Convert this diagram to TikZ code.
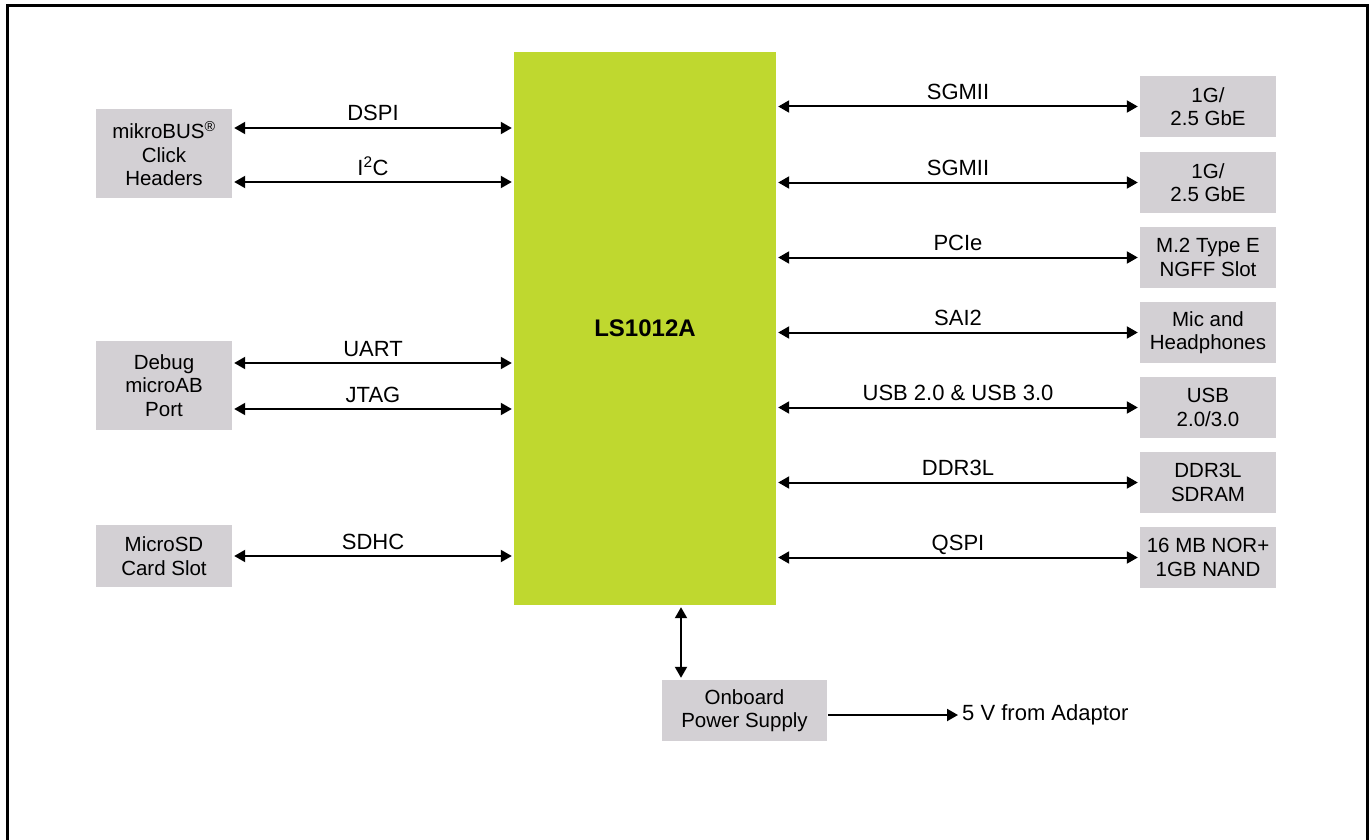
\documentclass[tikz,border=0pt]{standalone}
\usepackage{fontspec}
\setmainfont{Liberation Sans}
\usetikzlibrary{arrows.meta}
\definecolor{boxgray}{RGB}{211,208,212}
\definecolor{chiplime}{RGB}{191,216,47}
\tikzstyle{block}=[fill=boxgray, minimum width=136pt, minimum height=61pt, inner sep=0pt, align=center, font=\fontsize{20.5}{23.5}\selectfont]
\tikzstyle{chipbox}=[fill=chiplime, minimum width=262pt, minimum height=553pt, font=\fontsize{24}{28}\selectfont\bfseries]
\tikzstyle{bus}=[{Triangle[length=11pt,width=12pt]}-{Triangle[length=11pt,width=12pt]}, line width=2pt, shorten <=2pt, shorten >=2pt]
\tikzstyle{feed}=[-{Triangle[length=11pt,width=12pt]}, line width=2pt, shorten <=1pt, shorten >=4pt]
\tikzstyle{lbl}=[midway, anchor=base, yshift=7pt, font=\fontsize{22}{25}\selectfont]

\begin{document}
\begin{tikzpicture}[x=1pt, y=-1pt]
\useasboundingbox (0,0) rectangle (1370,840);
% Frame
    \draw[line width=3pt] (7,840) -- (7,6) -- (1367,6) -- (1367,840);
% Processor
    \node[chipbox] (chip) at (645,328.5) {LS1012A};
% Left blocks
    \node[block, minimum height=89pt] (mikro) at (164,153.5) {mikroBUS\textsuperscript{\textregistered}\\Click\\Headers};
    \node[block, minimum height=89pt] (debug) at (164,385.5) {Debug\\microAB\\Port};
    \node[block, minimum height=62pt] (sd) at (164,556) {MicroSD\\Card Slot};
% Right blocks
    \node[block] (gbe1) at (1208,106.5) {1G/\\2.5 GbE};
    \node[block] (gbe2) at (1208,182.5) {1G/\\2.5 GbE};
    \node[block] (mtwo) at (1208,257.5) {M.2 Type E\\NGFF Slot};
    \node[block] (audio) at (1208,332.5) {Mic and\\Headphones};
    \node[block] (usb) at (1208,407.5) {USB\\2.0/3.0};
    \node[block] (ddr) at (1208,482.5) {DDR3L\\SDRAM};
    \node[block] (flash) at (1208,557.5) {16 MB NOR+\\1GB NAND};
% Power
    \node[block, minimum width=165pt] (psu) at (744.5,710.5) {Onboard\\Power Supply};
    \node[anchor=west, inner sep=0pt, font=\fontsize{22}{25}\selectfont] (adaptor) at (962,715) {5 V from Adaptor};
    \coordinate (pwr) at (681,0);
% Left buses
    \coordinate (dspi) at (0,128);
    \coordinate (iic) at (0,182);
    \coordinate (uart) at (0,363);
    \coordinate (jtag) at (0,409);
    \draw[bus] (mikro.east |- dspi) -- (chip.west |- dspi) node[lbl] {DSPI};
    \draw[bus] (mikro.east |- iic) -- (chip.west |- iic) node[lbl] {I\textsuperscript{2}C};
    \draw[bus] (debug.east |- uart) -- (chip.west |- uart) node[lbl] {UART};
    \draw[bus] (debug.east |- jtag) -- (chip.west |- jtag) node[lbl] {JTAG};
    \draw[bus] (sd.east) -- (chip.west |- sd.east) node[lbl] {SDHC};
% Right buses
    \draw[bus] (chip.east |- gbe1.west) -- (gbe1.west) node[lbl] {SGMII};
    \draw[bus] (chip.east |- gbe2.west) -- (gbe2.west) node[lbl] {SGMII};
    \draw[bus] (chip.east |- mtwo.west) -- (mtwo.west) node[lbl] {PCIe};
    \draw[bus] (chip.east |- audio.west) -- (audio.west) node[lbl] {SAI2};
    \draw[bus] (chip.east |- usb.west) -- (usb.west) node[lbl] {USB 2.0 \& USB 3.0};
    \draw[bus] (chip.east |- ddr.west) -- (ddr.west) node[lbl] {DDR3L};
    \draw[bus] (chip.east |- flash.west) -- (flash.west) node[lbl] {QSPI};
% Supply paths
    \draw[bus] (chip.south -| pwr) -- (psu.north -| pwr);
    \draw[feed] (psu.east |- adaptor.west) -- (adaptor.west);
\end{tikzpicture}
\end{document}
